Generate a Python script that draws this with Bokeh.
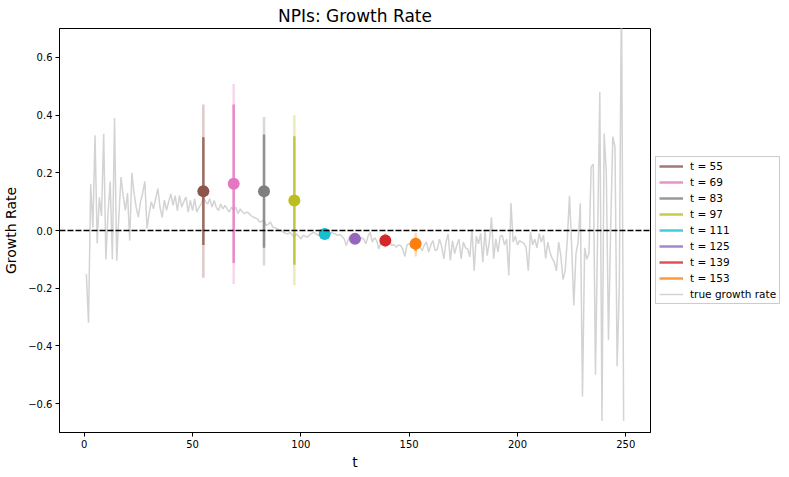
from bokeh.plotting import figure
from bokeh.models import ColumnDataSource, Span, Legend, LegendItem, FixedTicker
from bokeh.embed import file_html
from bokeh.resources import INLINE

# ---- data ----
growth = [
    -0.15, -0.32, 0.16, 0.01, 0.33, -0.045, 0.115, 0.05, 0.335, -0.10,
    0.06, 0.17, -0.10, 0.39, -0.105, 0.05, 0.185, 0.12, 0.07, 0.13,
    -0.035, 0.20, 0.13, 0.08, 0.046, 0.10, 0.13, 0.17, 0.007, 0.06,
    0.10, 0.075, 0.11, 0.145, 0.08, 0.045, 0.105, 0.07, 0.10, 0.127,
    0.087, 0.121, 0.069, 0.121, 0.081, 0.10, 0.116, 0.064, 0.104, 0.069,
    0.11, 0.064, 0.08, 0.092, 0.116, 0.10, 0.092, 0.11, 0.081, 0.104,
    0.08, 0.069, 0.092, 0.075, 0.087, 0.075, 0.064, 0.081, 0.07, 0.081,
    0.058, 0.075, 0.065, 0.058, 0.064, 0.06, 0.052, 0.046, 0.044, 0.04,
    0.029, 0.032, 0.035, 0.017, 0.022, 0.029, 0.012, 0.01, 0.006, 0.002,
    0.0, -0.006, -0.01, -0.012, -0.006, -0.015, -0.023, -0.012, -0.02, -0.029,
    -0.017, -0.02, -0.023, -0.015, -0.01, -0.006, -0.012, -0.017, -0.01, -0.015,
    -0.012, -0.008, -0.012, -0.006, -0.01, -0.012, -0.017, -0.014, -0.02, -0.029,
    -0.052, -0.03, -0.017, -0.025, -0.03, -0.028, -0.035, -0.025, -0.03, -0.046,
    -0.02, -0.006, -0.04, -0.025, -0.035, -0.064, -0.04, -0.03, -0.035, -0.045,
    -0.04, -0.052, -0.048, -0.058, -0.05, -0.052, -0.064, -0.09, -0.05, -0.045,
    -0.06, -0.05, -0.055, -0.045, -0.058, -0.07, -0.05, -0.04, -0.075, -0.05,
    -0.035, -0.07, -0.065, -0.03, -0.055, -0.098, -0.04, -0.012, -0.104, -0.035,
    -0.08, -0.05, -0.03, -0.098, -0.04, -0.06, -0.064, -0.092, 0.006, -0.139,
    -0.02, -0.046, -0.01, -0.11, 0.0, -0.087, -0.04, 0.046, -0.098, -0.029,
    -0.075, -0.02, -0.017, -0.05, -0.03, -0.156, 0.095, -0.04, -0.02, -0.05,
    -0.035, -0.04, -0.045, -0.06, -0.139, -0.005, -0.05, -0.03, -0.06, -0.01,
    -0.04, -0.016, -0.097, -0.04, -0.075, -0.097, -0.11, -0.14, -0.04, -0.086,
    -0.17, -0.14, -0.03, 0.12, -0.05, -0.26, -0.08, -0.04, 0.094, -0.575,
    -0.06, -0.10, -0.08, 0.22, 0.23, -0.50, -0.01, 0.48, -0.66, 0.336,
    0.2, -0.38, 0.0, 0.325, 0.29, -0.47, -0.2, 0.85, -0.66,
]
days = list(range(1, len(growth) + 1))

est_t = [55, 69, 83, 97, 111, 125, 139, 153]
est_mean = [0.136, 0.162, 0.136, 0.104, -0.012, -0.029, -0.035, -0.046]
inner_lo = [-0.05, -0.113, -0.06, -0.119, -0.018, -0.035, -0.05, -0.07]
inner_hi = [0.323, 0.437, 0.333, 0.327, -0.006, -0.023, -0.02, -0.025]
outer_lo = [-0.164, -0.185, -0.121, -0.19, -0.022, -0.04, -0.058, -0.09]
outer_hi = [0.437, 0.508, 0.393, 0.399, -0.002, -0.018, -0.01, -0.008]
est_colors = ["#8c564b", "#e377c2", "#7f7f7f", "#bcbd22",
              "#17becf", "#9467bd", "#d62728", "#ff7f0e"]
est_labels = ["t = %d" % t for t in est_t]

x_ticks = [0, 50, 100, 150, 200, 250]
y_ticks = [-0.6, -0.4, -0.2, 0.0, 0.2, 0.4, 0.6]
y_tick_labels = ["\u22120.6", "\u22120.4", "\u22120.2", "0.0", "0.2", "0.4", "0.6"]

FONT = "DejaVu Sans"

p = figure(frame_width=591, frame_height=404,
           x_range=(-11.4, 261.4), y_range=(-0.7, 0.7),
           output_backend="svg", toolbar_location=None,
           min_border_left=53, min_border_top=22, min_border_bottom=37,
           min_border_right=0, background_fill_color="white",
           border_fill_color="white")

p.title.text = "NPIs: Growth Rate"
p.title.align = "center"
p.title.text_font = FONT
p.title.text_font_size = "17px"
p.title.text_font_style = "normal"
p.title.text_color = "black"
p.title.standoff = 6

p.xgrid.visible = False
p.ygrid.visible = False
p.outline_line_color = "black"
p.outline_line_width = 1
p.outline_line_alpha = 1

for ax in (p.xaxis[0], p.yaxis[0]):
    ax.axis_line_color = "black"
    ax.major_tick_line_color = "black"
    ax.major_tick_out = 4
    ax.major_tick_in = 0
    ax.minor_tick_line_color = None
    ax.major_label_text_font = FONT
    ax.major_label_text_font_size = "10px"
    ax.major_label_text_color = "black"
    ax.major_label_standoff = 3
    ax.axis_label_text_font = FONT
    ax.axis_label_text_font_size = "14px"
    ax.axis_label_text_font_style = "normal"
    ax.axis_label_text_color = "black"

p.xaxis.ticker = FixedTicker(ticks=x_ticks)
p.yaxis.ticker = FixedTicker(ticks=y_ticks)
p.yaxis.major_label_overrides = {v: s for v, s in zip(y_ticks, y_tick_labels)}
p.xaxis.axis_label = "t"
p.yaxis.axis_label = "Growth Rate"
p.xaxis.axis_label_standoff = 3
p.yaxis.axis_label_standoff = 6

src = ColumnDataSource(dict(t=est_t, m=est_mean, ilo=inner_lo, ihi=inner_hi,
                            olo=outer_lo, ohi=outer_hi, c=est_colors))

line_src = ColumnDataSource(dict(t=days, g=growth))
gl = p.line("t", "g", source=line_src, line_color="#d3d3d3", line_width=1.5)

outer = p.segment(x0="t", y0="olo", x1="t", y1="ohi", source=src,
                  line_color="c", line_alpha=0.3, line_width=2.5)
inner = p.segment(x0="t", y0="ilo", x1="t", y1="ihi", source=src,
                  line_color="c", line_alpha=0.8, line_width=2.5)
p.scatter("t", "m", source=src, size=12, fill_color="c", line_color="c",
          line_width=0)

zero = Span(location=0, dimension="width", line_color="black",
            line_width=1.5, line_dash="6 2")
p.add_layout(zero)

items = [LegendItem(label=lab, renderers=[inner], index=i)
         for i, lab in enumerate(est_labels)]
items.append(LegendItem(label="true growth rate", renderers=[gl]))
legend = Legend(items=items, location="center_left", margin=5, padding=3,
                spacing=4, label_text_font=FONT, label_text_font_size="10.5px",
                label_text_color="black", glyph_width=24, glyph_height=12,
                label_height=12, label_standoff=7,
                border_line_color="#cccccc", border_line_alpha=1,
                background_fill_alpha=0.8)
p.add_layout(legend, "right")

open("out.html", "w").write(file_html(p, INLINE))
